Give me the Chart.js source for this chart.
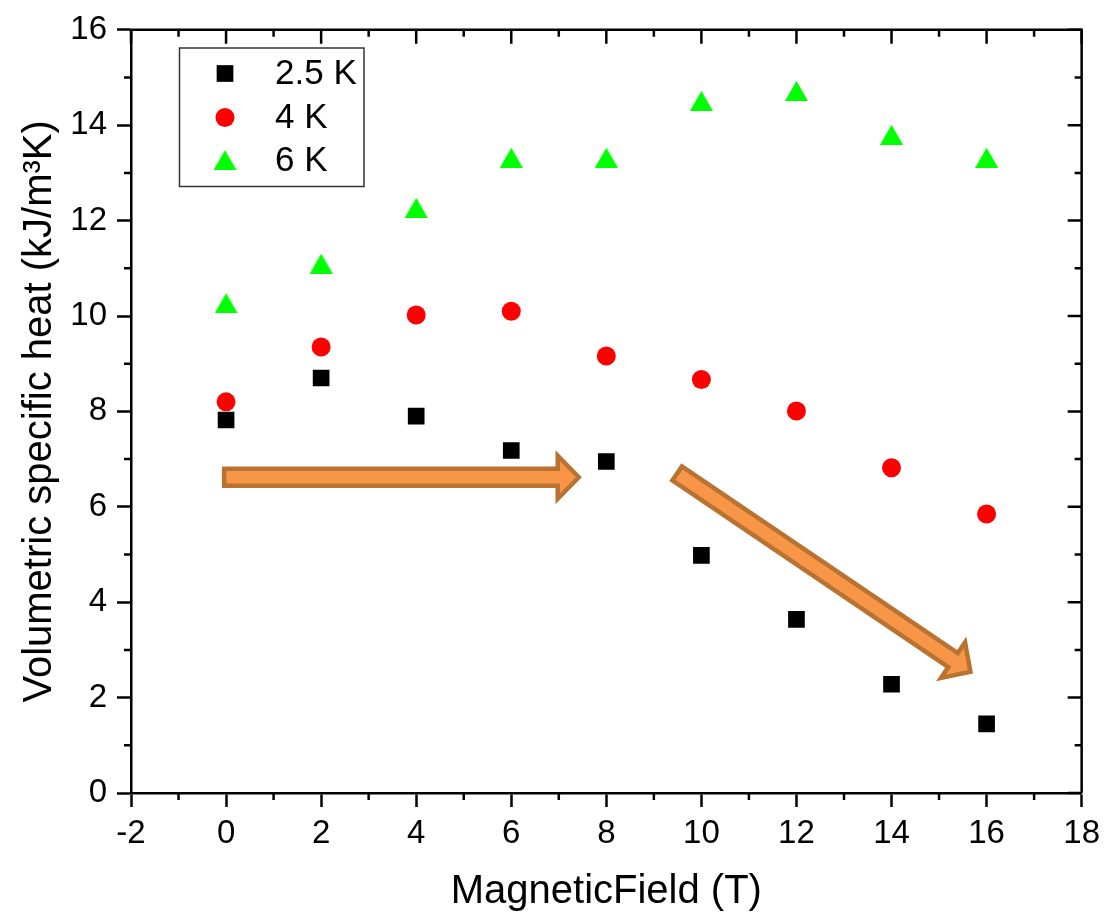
<!DOCTYPE html>
<html><head><meta charset="utf-8">
<script src="https://cdn.jsdelivr.net/npm/chart.js@4/dist/chart.umd.min.js"></script>
<style>html,body{margin:0;padding:0;background:#fff;overflow:hidden}</style>
</head><body>
<canvas id="c" width="1107" height="914" style="width:1107px;height:914px;display:block"></canvas>
<script>
// ---- data ----
const fields = [0, 2, 4, 6, 8, 10, 12, 14, 16];
const heat25K = [7.82, 8.70, 7.90, 7.18, 6.95, 4.98, 3.64, 2.28, 1.45];
const heat4K  = [8.20, 9.35, 10.02, 10.10, 9.16, 8.67, 8.01, 6.82, 5.85];
const heat6K  = [10.27, 11.10, 12.27, 13.32, 13.32, 14.51, 14.72, 13.80, 13.32];
const seriesLabels = ['2.5 K', '4 K', '6 K'];
const xTickValues = [-2, 0, 2, 4, 6, 8, 10, 12, 14, 16, 18];
const yTickValues = [0, 2, 4, 6, 8, 10, 12, 14, 16];
const xTitle = 'MagneticField (T)';
const yTitle = 'Volumetric specific heat (kJ/m\u00B3K)';
// arrow annotations (data coordinates: start, end)
const arrowStarts = [[-0.04, 6.62], [9.49, 6.70]];
const arrowEnds   = [[7.42, 6.62], [15.66, 2.54]];

const FONT = '"Liberation Sans", Arial, sans-serif';

// centered triangle marker image
function makeTriangle(w, h, color) {
  const cv = document.createElement('canvas');
  cv.width = w; cv.height = h;
  const g = cv.getContext('2d');
  g.fillStyle = color;
  g.beginPath();
  g.moveTo(w / 2, 0);
  g.lineTo(w, h);
  g.lineTo(0, h);
  g.closePath();
  g.fill();
  return cv;
}
const triImg = makeTriangle(23, 20, '#00ff00');

const toData = (xs, ys) => xs.map((x, i) => ({x: x, y: ys[i]}));

const styles = [
  {pointStyle: 'rect', pointRadius: 11.8, color: '#000000'},
  {pointStyle: 'circle', pointRadius: 9.5, color: '#ff0000'},
  {pointStyle: triImg, pointRadius: 12, color: '#00ff00'}
];
const seriesValues = [heat25K, heat4K, heat6K];

const datasets = seriesValues.map((vals, i) => ({
  label: seriesLabels[i],
  data: toData(fields, vals),
  showLine: false,
  pointStyle: styles[i].pointStyle,
  pointRadius: styles[i].pointRadius,
  pointHoverRadius: styles[i].pointRadius,
  pointBorderWidth: 0,
  backgroundColor: styles[i].color,
  borderColor: styles[i].color
}));

const MAJ = 14, MIN = 7, LW = 2.5;

const framePlugin = {
  id: 'frame',
  afterDraw(chart) {
    const ctx = chart.ctx;
    const a = chart.chartArea;
    const xs = chart.scales.x, ys = chart.scales.y;
    ctx.save();
    ctx.strokeStyle = '#000';
    ctx.lineWidth = LW;
    ctx.lineCap = 'butt';
    // top and right axes
    ctx.beginPath();
    ctx.moveTo(a.left - LW / 2, a.top); ctx.lineTo(a.right + LW / 2, a.top);
    ctx.moveTo(a.right, a.top); ctx.lineTo(a.right, a.bottom);
    ctx.stroke();
    ctx.beginPath();
    for (let v = -2; v <= 18; v += 1) {
      const px = xs.getPixelForValue(v);
      const major = v % 2 === 0;
      const len = major ? MAJ : MIN;
      ctx.moveTo(px, a.top); ctx.lineTo(px, a.top + len);
      if (!major) { ctx.moveTo(px, a.bottom); ctx.lineTo(px, a.bottom + MIN); }
    }
    for (let v = 0; v <= 16; v += 1) {
      const py = ys.getPixelForValue(v);
      const major = v % 2 === 0;
      const len = major ? MAJ : MIN;
      ctx.moveTo(a.right, py); ctx.lineTo(a.right - len, py);
      if (!major) { ctx.moveTo(a.left, py); ctx.lineTo(a.left - MIN, py); }
    }
    ctx.stroke();

    // legend
    const lx = 179.5, ly = 48, lw = 184.5, lh = 138.5;
    ctx.lineWidth = 1.5;
    ctx.strokeStyle = '#333';
    ctx.strokeRect(lx, ly, lw, lh);
    const rowsY = [73.5, 117.5, 160];
    const mx = 225;
    ctx.font = '35px ' + FONT;
    ctx.textBaseline = 'middle';
    ctx.textAlign = 'left';
    chart.data.datasets.forEach((ds, i) => {
      const y = rowsY[i];
      ctx.fillStyle = ds.backgroundColor;
      if (ds.pointStyle === 'rect') {
        const s = ds.pointRadius * Math.SQRT1_2;
        ctx.fillRect(mx - s, y - s, 2 * s, 2 * s);
      } else if (ds.pointStyle === 'circle') {
        ctx.beginPath(); ctx.arc(mx, y, ds.pointRadius, 0, Math.PI * 2); ctx.fill();
      } else {
        const im = ds.pointStyle;
        ctx.drawImage(im, mx - im.width / 2, y - im.height / 2);
      }
      ctx.fillStyle = '#000';
      ctx.fillText(ds.label, 275, y + 1);
    });
    ctx.restore();
  },
  afterDatasetsDraw(chart) {
    const ctx = chart.ctx;
    const xs = chart.scales.x, ys = chart.scales.y;
    ctx.save();
    arrowStarts.forEach((s, i) => {
      const e = arrowEnds[i];
      const x0 = xs.getPixelForValue(s[0]), y0 = ys.getPixelForValue(s[1]);
      const x1 = xs.getPixelForValue(e[0]), y1 = ys.getPixelForValue(e[1]);
      const dx = x1 - x0, dy = y1 - y0, L = Math.hypot(dx, dy);
      const ux = dx / L, uy = dy / L, nx = -uy, ny = ux;
      const sw = 8.5, hw = 21.5, hl = 21;
      const bx = x1 - ux * hl, by = y1 - uy * hl;
      ctx.beginPath();
      ctx.moveTo(x0 + nx * sw, y0 + ny * sw);
      ctx.lineTo(bx + nx * sw, by + ny * sw);
      ctx.lineTo(bx + nx * hw, by + ny * hw);
      ctx.lineTo(x1, y1);
      ctx.lineTo(bx - nx * hw, by - ny * hw);
      ctx.lineTo(bx - nx * sw, by - ny * sw);
      ctx.lineTo(x0 - nx * sw, y0 - ny * sw);
      ctx.closePath();
      ctx.fillStyle = '#f79646';
      ctx.fill();
      ctx.lineWidth = 4.5;
      ctx.lineJoin = 'miter';
      ctx.strokeStyle = '#b87333';
      ctx.stroke();
    });
    ctx.restore();
  }
};

new Chart(document.getElementById('c'), {
  type: 'scatter',
  data: {datasets: datasets},
  options: {
    responsive: false,
    animation: false,
    events: [],
    layout: {padding: {top: 24, right: 23, left: 0, bottom: 0}},
    plugins: {legend: {display: false}, tooltip: {enabled: false}},
    scales: {
      x: {
        type: 'linear', min: -2, max: 18,
        afterFit(scale) { scale.height = 121; },
        afterBuildTicks(scale) { scale.ticks = xTickValues.map(v => ({value: v})); },
        grid: {display: true, drawOnChartArea: false, drawTicks: true, tickLength: MAJ, tickWidth: LW, tickColor: '#000'},
        border: {display: true, color: '#000', width: LW},
        ticks: {color: '#000', font: {family: FONT, size: 33}, padding: 7, maxRotation: 0, autoSkip: false},
        title: {display: true, text: xTitle, color: '#000', font: {family: FONT, size: 40, lineHeight: 1}, padding: {top: 2, bottom: 2}}
      },
      y: {
        type: 'linear', min: 0, max: 16,
        afterFit(scale) { scale.width = 131; },
        afterBuildTicks(scale) { scale.ticks = yTickValues.map(v => ({value: v})); },
        grid: {display: true, drawOnChartArea: false, drawTicks: true, tickLength: MAJ, tickWidth: LW, tickColor: '#000'},
        border: {display: true, color: '#000', width: LW},
        ticks: {color: '#000', font: {family: FONT, size: 33}, padding: 10, autoSkip: false},
        title: {display: true, text: yTitle, color: '#000', font: {family: FONT, size: 40, lineHeight: 1}, padding: {top: 20, bottom: 2}}
      }
    }
  },
  plugins: [framePlugin]
});
</script>
</body></html>
